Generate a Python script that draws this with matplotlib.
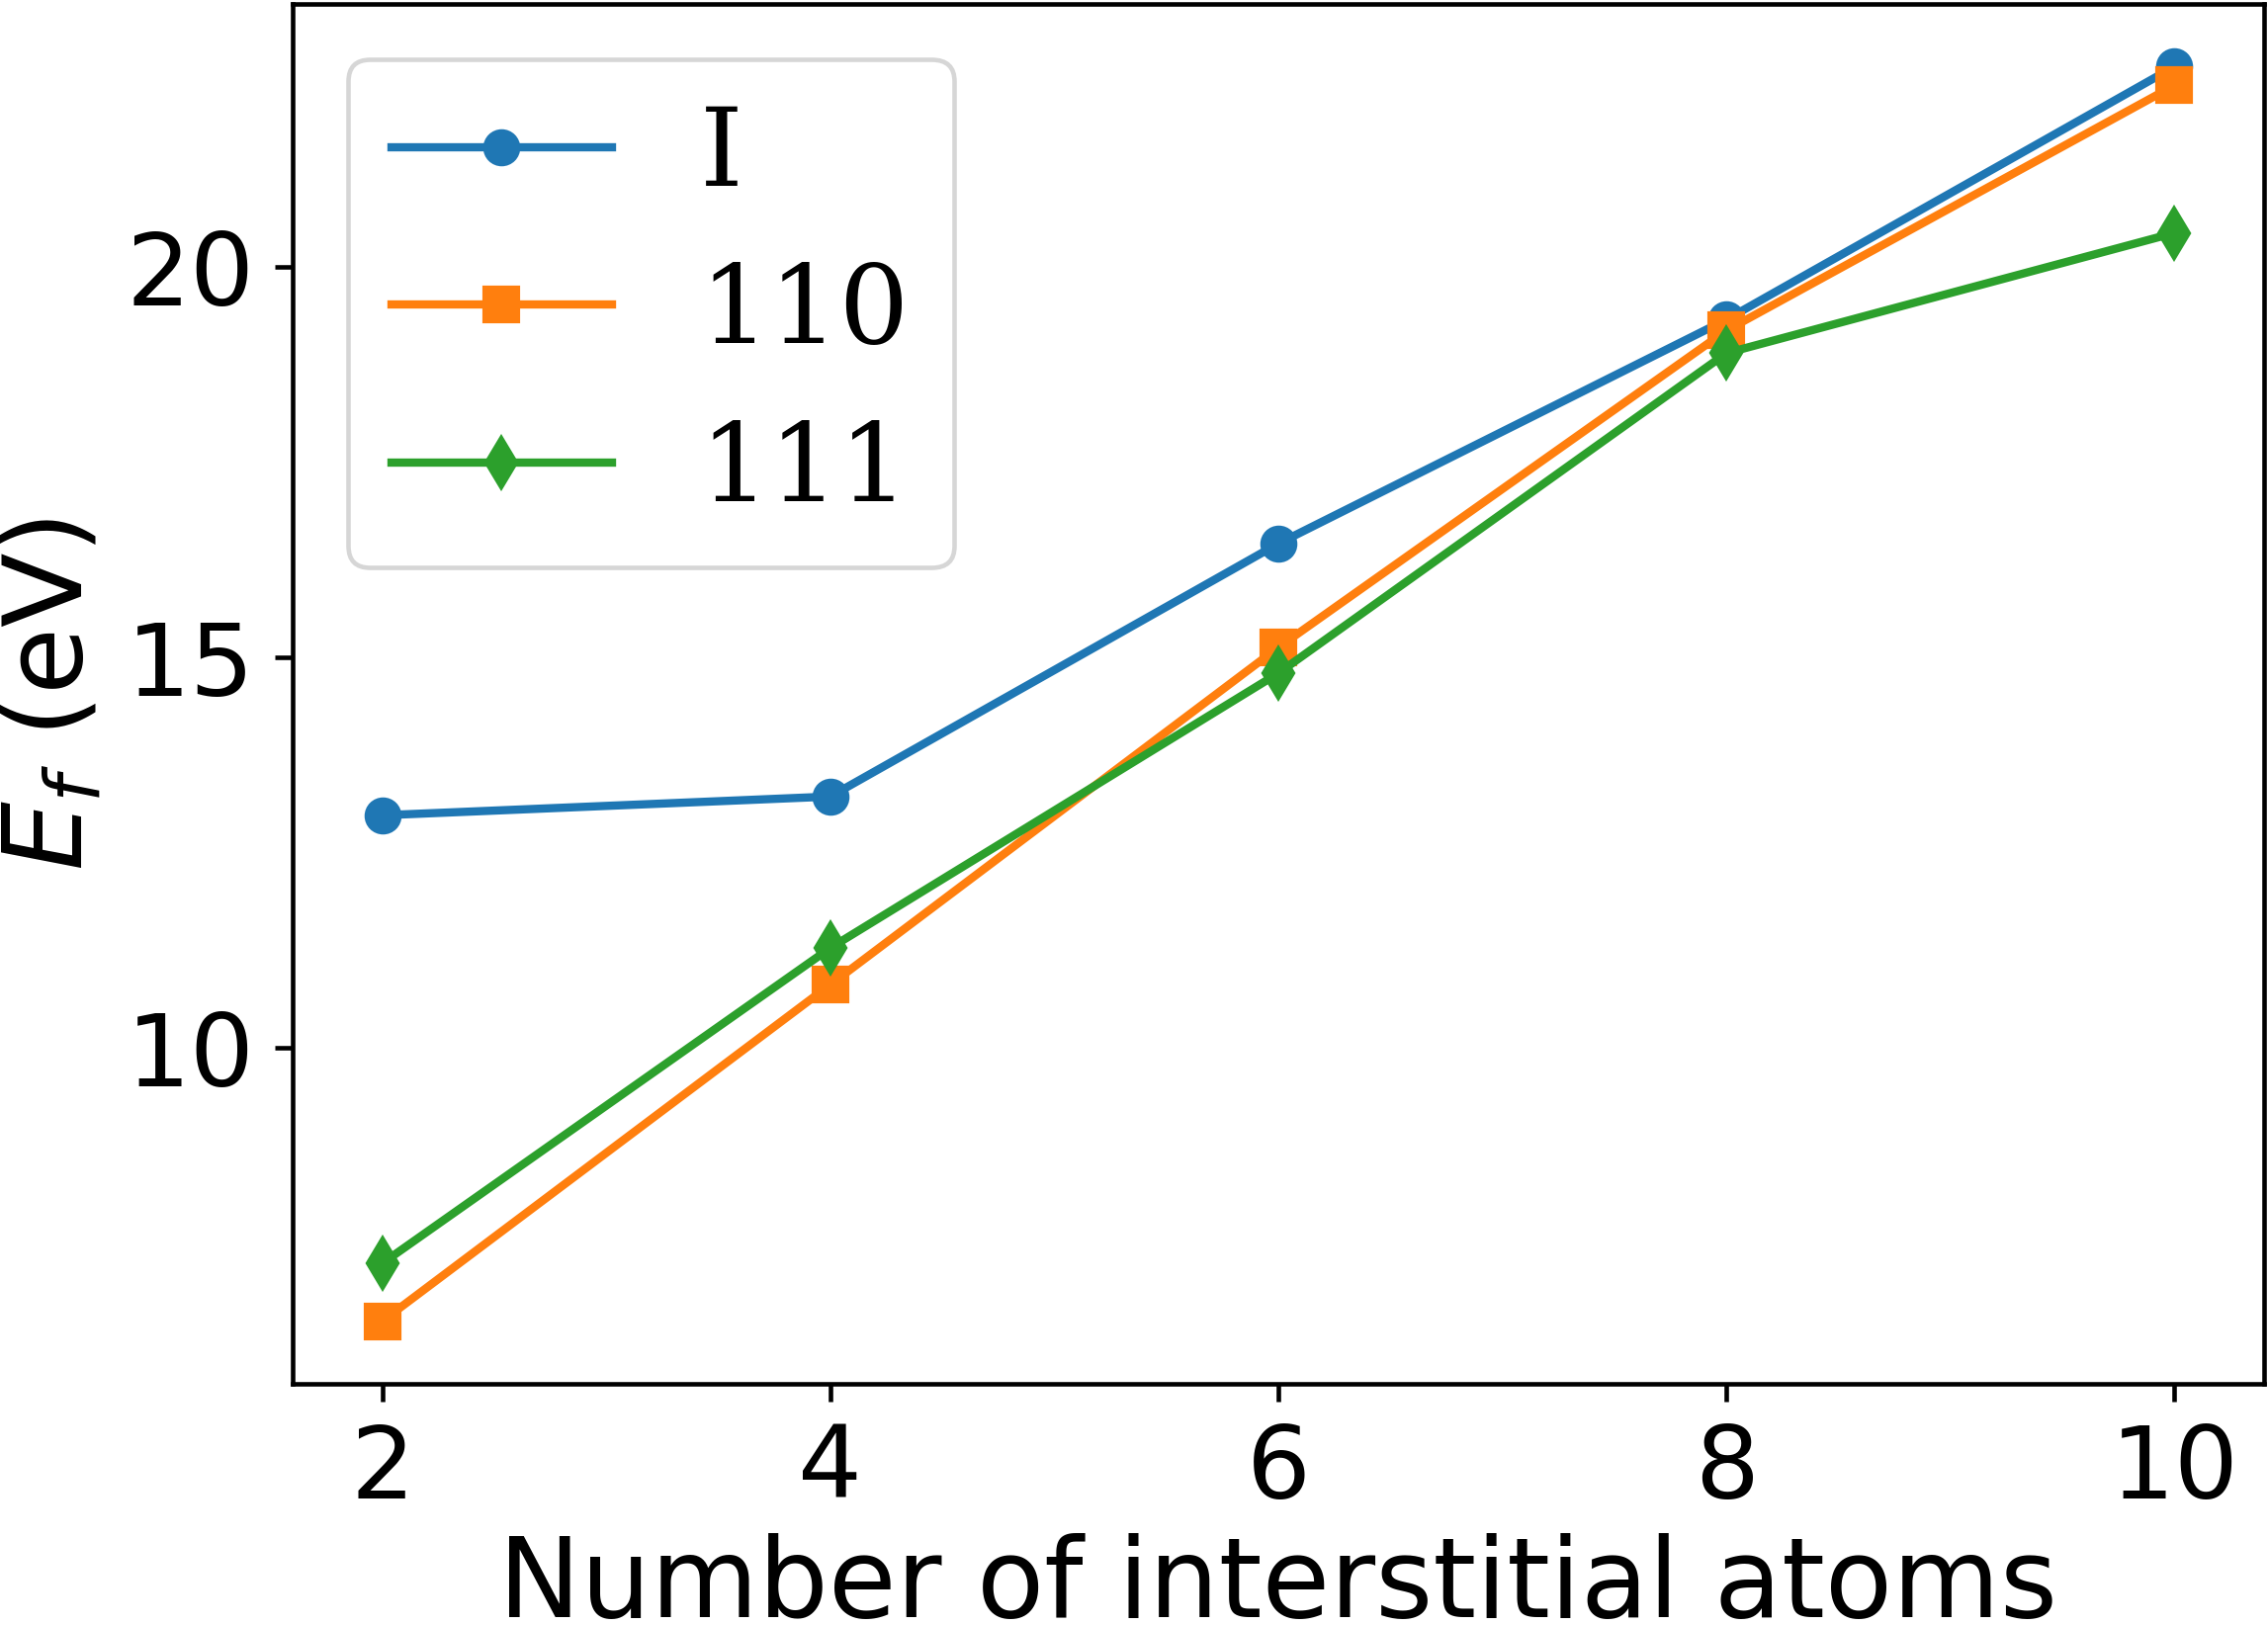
import matplotlib
matplotlib.use('Agg')
import matplotlib.pyplot as plt

# data
n_atoms = [2, 4, 6, 8, 10]
e_I = [12.98, 13.22, 16.46, 19.33, 22.57]
e_110 = [6.50, 10.81, 15.13, 19.19, 22.33]
e_111 = [7.24, 11.28, 14.80, 18.90, 20.44]
labels = ['I', '110', '111']

fig = plt.figure(figsize=(2294 / 300, 1644 / 300), dpi=300)
ax = fig.add_axes([296 / 2294, 1 - 1400 / 1644, (2290 - 296) / 2294, (1400 - 4) / 1644])

ax.plot(n_atoms, e_I, marker='o', markersize=8, linewidth=2, label=labels[0])
ax.plot(n_atoms, e_110, marker='s', markersize=8, linewidth=2, label=labels[1])
ax.plot(n_atoms, e_111, marker='d', markersize=8.5, linewidth=2, label=labels[2])

for sp in ax.spines.values():
    sp.set_linewidth(1.1)
ax.set_xticks([2, 4, 6, 8, 10])
ax.set_yticks([10, 15, 20])
ax.tick_params(labelsize=24.5, length=4.3, width=1.1, pad=5)
ax.set_xlabel('Number of interstitial atoms', fontsize=26.8, labelpad=3.5)
ax.set_ylabel('$E_f$ (eV)', fontsize=26.5, labelpad=5)
leg = ax.legend(loc='upper left', prop={'family': 'DejaVu Serif', 'size': 26.7},
                labelspacing=0.47)
leg.get_frame().set_linewidth(1.1)

plt.savefig('out.png', dpi=300)
